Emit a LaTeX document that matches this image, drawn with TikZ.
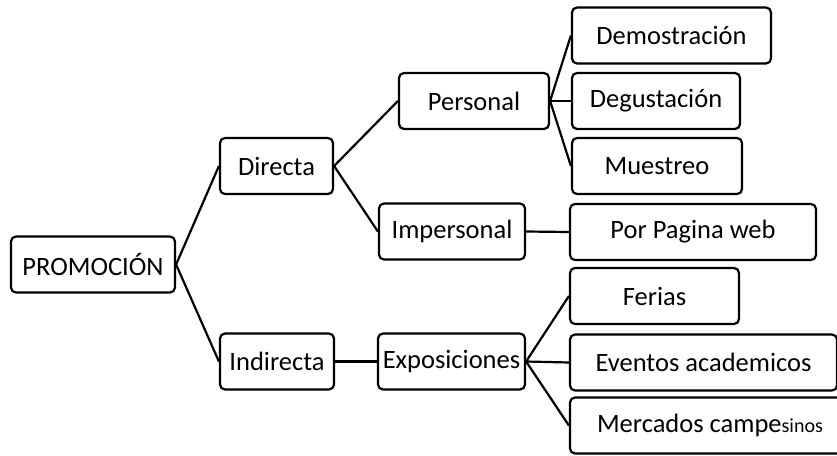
\documentclass[tikz,border=0pt]{standalone}
\usepackage{fontspec}
\setmainfont{Carlito}
\usepackage{tikz}
\tikzset{
  item/.style={draw,line width=2.2pt,rounded corners=5pt,inner sep=0pt,
    minimum height=56pt,font=\fontsize{26.5}{30}\selectfont},
  link/.style={line width=2.2pt}
}

\begin{document}
\begin{tikzpicture}[x=1pt,y=-1pt]
  \useasboundingbox (0,0) rectangle (837,455);
  \clip (0,0) rectangle (837,455);

  % root and the two kinds
  \node[item,minimum width=164pt] (prom) at (93,264.5) {PROMOCIÓN};
  \node[item,minimum width=113pt] (directa) at (276.5,166) {Directa};
  \node[item,minimum width=114pt] (indirecta) at (277,361.5) {Indirecta};

  % second level
  \node[item,minimum width=150pt] (personal) at (474,101) {Personal};
  \node[item,minimum width=146pt] (impersonal) at (452,231.5) {Impersonal};
  \node[item,minimum width=147pt] (expo) at (451.5,361.5) {Exposiciones};

  % leaves
  \node[item,minimum width=199pt] (demo) at (671.5,35.5) {Demostración};
  \node[item,minimum width=168pt] (degu) at (656,101) {Degustación};
  \node[item,minimum width=170pt] (mues) at (657,166) {Muestreo};
  \node[item,minimum width=246pt] (web) at (693,232) {Por Pagina web};
  \node[item,minimum width=169pt] (ferias) at (654.5,296) {Ferias};
  \node[item,minimum width=267pt] (eventos) at (703.5,362.5) {Eventos academicos};
  \node[item,minimum width=280pt] (mercados) at (710,425.5)
    {Mercados campe{\fontsize{20}{24}\selectfont sinos}};

  \draw[link] (prom.east) -- (directa.west);
  \draw[link] (prom.east) -- (indirecta.west);
  \draw[link] (directa.east) -- (personal.west);
  \draw[link] (directa.east) -- (impersonal.west);
  \draw[link] (indirecta.east) -- (expo.west);
  \draw[link] (impersonal.east) -- (web.west);
  \foreach \leaf in {demo,degu,mues}
    \draw[link] (personal.east) -- (\leaf.west);
  \foreach \leaf in {ferias,eventos,mercados}
    \draw[link] (expo.east) -- (\leaf.west);
\end{tikzpicture}
\end{document}
